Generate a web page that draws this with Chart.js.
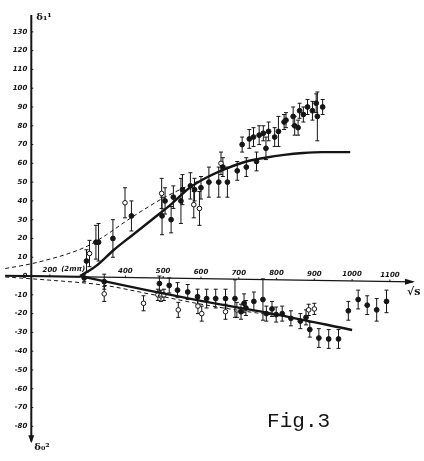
<!DOCTYPE html>
<html>
<head>
<meta charset="utf-8">
<script src="https://cdn.jsdelivr.net/npm/chart.js@4/dist/chart.umd.min.js"></script>
<style>
  html, body { margin: 0; padding: 0; background: #fff; }
  canvas { display: block; }
</style>
</head>
<body>
<canvas id="fig3" width="424" height="461"></canvas>
<script>
// delta 1 1 (upper branch), filled points
const p11X   = [297, 322, 329, 367, 416, 497, 505, 521, 527, 547, 551, 572, 583, 600, 621, 647, 658, 670, 696, 709, 720, 728, 739, 747, 754, 765, 772, 779, 795, 805, 820, 825, 844, 848, 857, 861, 871, 882, 895, 905, 908, 922];
const p11Y   = [8, 18, 18, 20, 32, 32, 40, 30, 42, 40, 46, 48, 46, 47, 50, 50, 58, 50, 56, 70, 58, 73, 74, 61, 75, 76, 68, 77, 74, 77, 82, 83, 85, 80, 79, 88, 86, 90, 88, 92, 85, 90];
const p11Err = [6, 9, 10, 10, 8, 10, 7, 7, 6, 12, 8, 7, 6, 6, 8, 8, 5, 8, 5, 4, 5, 5, 5, 5, 5, 4, 6, 5, 5, 8, 4, 4, 5, 5, 4, 4, 4, 4, 5, 5, 13, 4];
// delta 1 1, open points
const p11OpenX   = [305, 399, 496, 581, 596, 653];
const p11OpenY   = [12, 39, 44, 38, 36, 60];
const p11OpenErr = [7, 8, 8, 7, 9, 6];

// delta 0 2 (lower branch), filled points
const s02X   = [291, 344, 490, 516, 538, 565, 591, 615, 639, 665, 690, 706, 714, 719, 740, 764, 773, 788, 799, 815, 838, 863, 878, 888, 912, 938, 964, 990, 1016, 1040, 1065, 1091];
const s02Y   = [-1, -3, -4, -5, -7.5, -8.5, -11, -12, -12, -12, -12, -19, -14.5, -17, -13.5, -12.5, -20, -17.5, -20.5, -20, -22.5, -24, -22, -28.5, -33, -33.5, -33.5, -18.5, -12.5, -15.5, -18, -13.5];
const s02Err = [2, 4, 4, 4, 4, 4, 4, 5, 5, 5, 10, 4, 5, 4, 5, 11, 4, 4, 4, 4, 4, 4, 4, 4, 5, 5, 5, 5, 5, 5, 6, 6];
// delta 0 2, open points
const s02OpenX   = [344, 448, 486, 494, 502, 540, 592, 602, 665, 695, 885, 900];
const s02OpenY   = [-9.5, -14.5, -10, -10.5, -10, -18, -16, -20, -19, -18, -18, -17.5];
const s02OpenErr = [4, 4, 3, 3, 3, 4, 4, 4, 4, 4, 3, 3];

// theoretical curves
const p11SolidX  = [280, 320, 370, 420, 470, 520, 570, 620, 670, 720, 770, 820, 870, 920, 995];
const p11SolidY  = [0, 5, 14, 22, 30, 38, 47, 53, 57.5, 61, 63, 64.5, 65.5, 66, 66];
const p11DashX   = [82, 150, 200, 250, 300, 350, 400, 450, 500, 560, 620, 680, 740, 770];
const p11DashY   = [4, 6.5, 9, 12, 16, 22, 29, 35.5, 41.5, 47.5, 53, 58, 62, 63];
const s02SolidX  = [280, 450, 600, 800, 1000];
const s02SolidY  = [0, -7.2, -13.2, -20.5, -28.7];
const s02DashX   = [82, 200, 340, 470, 615, 753, 820];
const s02DashY   = [-0.5, -2.2, -4.8, -9.8, -15.5, -19.8, -21.5];

// axis ticks
const xTicks = [200, 400, 500, 600, 700, 800, 900, 1000, 1100];
const yTicks = [130, 120, 110, 100, 90, 80, 70, 60, 50, 40, 30, 20, 10, 0, -10, -20, -30, -40, -50, -60, -70, -80];

const ink = '#151515';
const yAxisAt = 151;   // sqrt(s) where the ordinate is drawn
const xAxisDrop = 3.1; // the abscissa line runs slightly downhill in the scan

function pts(xs, ys) {
  return xs.map((v, i) => ({ x: v, y: ys[i] }));
}

function axisY(v) {
  return -xAxisDrop * (v - yAxisAt) / (1161 - yAxisAt);
}

const errorBars = {
  id: 'errorBars',
  beforeDatasetsDraw(chart) {
    const { ctx, scales: { x, y } } = chart;
    ctx.save();
    ctx.strokeStyle = ink;
    ctx.lineWidth = 1;
    chart.data.datasets.forEach(ds => {
      if (!ds.errors) return;
      ds.data.forEach((p, i) => {
        const px = x.getPixelForValue(p.x);
        const top = y.getPixelForValue(p.y + ds.errors[i]);
        const bot = y.getPixelForValue(p.y - ds.errors[i]);
        ctx.beginPath();
        ctx.moveTo(px, top); ctx.lineTo(px, bot);
        ctx.moveTo(px - 2, top); ctx.lineTo(px + 2, top);
        ctx.moveTo(px - 2, bot); ctx.lineTo(px + 2, bot);
        ctx.stroke();
      });
    });
    ctx.restore();
  }
};

const paperAxes = {
  id: 'paperAxes',
  beforeDatasetsDraw(chart) {
    const { ctx, scales: { x, y } } = chart;
    const ax = x.getPixelForValue(yAxisAt);
    ctx.save();
    ctx.strokeStyle = ink;
    ctx.fillStyle = ink;

    // ordinate
    const yTop = y.getPixelForValue(139);
    const yBot = y.getPixelForValue(-88);
    ctx.lineWidth = 2;
    ctx.beginPath();
    ctx.moveTo(ax, yTop); ctx.lineTo(ax, yBot);
    ctx.stroke();
    ctx.beginPath();
    ctx.moveTo(ax - 3, yBot - 6); ctx.lineTo(ax, yBot + 2); ctx.lineTo(ax + 3, yBot - 6);
    ctx.closePath(); ctx.fill();

    ctx.font = 'bold italic 7px "DejaVu Sans"';
    ctx.textAlign = 'right';
    ctx.textBaseline = 'middle';
    ctx.lineWidth = 1;
    yTicks.forEach(t => {
      const py = y.getPixelForValue(t);
      ctx.fillText(String(t), ax - 4, py);
      ctx.beginPath(); ctx.moveTo(ax, py); ctx.lineTo(ax + 2, py); ctx.stroke();
    });

    // abscissa
    const x0 = x.getPixelForValue(82), x1 = x.getPixelForValue(1161);
    ctx.lineWidth = 1.1;
    ctx.beginPath();
    ctx.moveTo(x0, y.getPixelForValue(axisY(82)));
    ctx.lineTo(x1, y.getPixelForValue(axisY(1161)));
    ctx.stroke();
    ctx.lineWidth = 2;
    ctx.beginPath();
    ctx.moveTo(x0, y.getPixelForValue(axisY(82)));
    ctx.lineTo(x.getPixelForValue(280), y.getPixelForValue(axisY(280)));
    ctx.stroke();
    const ey = y.getPixelForValue(axisY(1161));
    ctx.beginPath();
    ctx.moveTo(x1 - 8, ey - 3); ctx.lineTo(x1 + 2, ey); ctx.lineTo(x1 - 8, ey + 3);
    ctx.closePath(); ctx.fill();

    ctx.textAlign = 'center';
    ctx.textBaseline = 'bottom';
    ctx.lineWidth = 1;
    xTicks.forEach(t => {
      const px = x.getPixelForValue(t);
      const py = y.getPixelForValue(axisY(t));
      ctx.fillText(String(t), px, py - 3);
      ctx.beginPath(); ctx.moveTo(px, py); ctx.lineTo(px, py - 2); ctx.stroke();
    });
    ctx.textAlign = 'left';
    ctx.fillText('(2m\u03c0)', x.getPixelForValue(230), y.getPixelForValue(0) - 3);

    // axis names
    ctx.font = 'bold 11px "DejaVu Serif"';
    ctx.textBaseline = 'alphabetic';
    ctx.fillText('\u221as', x1 - 6, ey + 13);
    ctx.font = 'bold 10px "DejaVu Serif"';
    ctx.fillText('\u03b4\u2081\u00b9', ax + 5, yTop + 5);
    ctx.fillText('\u03b4\u2080\u00b2', ax + 3, yBot + 9);

    // caption
    ctx.font = '21px "Liberation Mono"';
    ctx.fillText('Fig.3', x.getPixelForValue(1000) - 85, y.getPixelForValue(-80) + 1);
    ctx.restore();
  }
};

function scatterSet(xs, ys, errs, open, r) {
  return {
    type: 'scatter',
    data: pts(xs, ys),
    errors: errs,
    pointRadius: r,
    pointBackgroundColor: open ? '#fff' : ink,
    pointBorderColor: ink,
    pointBorderWidth: 1,
    showLine: false
  };
}

function curveSet(xs, ys, dashed) {
  return {
    type: 'line',
    data: pts(xs, ys),
    borderColor: ink,
    borderWidth: dashed ? 1 : 2.4,
    borderDash: dashed ? [4, 3] : [],
    pointRadius: 0,
    cubicInterpolationMode: 'monotone',
    fill: false
  };
}

new Chart(document.getElementById('fig3'), {
  type: 'scatter',
  data: {
    datasets: [
      curveSet(p11SolidX, p11SolidY, false),
      curveSet(p11DashX, p11DashY, true),
      curveSet(s02SolidX, s02SolidY, false),
      curveSet(s02DashX, s02DashY, true),
      scatterSet(p11X, p11Y, p11Err, false, 2.4),
      scatterSet(p11OpenX, p11OpenY, p11OpenErr, true, 2.3),
      scatterSet(s02X, s02Y, s02Err, false, 2.4),
      scatterSet(s02OpenX, s02OpenY, s02OpenErr, true, 2.3)
    ]
  },
  options: {
    responsive: false,
    animation: false,
    devicePixelRatio: 1,
    layout: { padding: 0 },
    plugins: { legend: { display: false }, tooltip: { enabled: false } },
    scales: {
      x: { type: 'linear', min: 81.4, max: 1177, display: false },
      y: { type: 'linear', min: -95.8, max: 144.3, display: false }
    }
  },
  plugins: [paperAxes, errorBars]
});
</script>
</body>
</html>
